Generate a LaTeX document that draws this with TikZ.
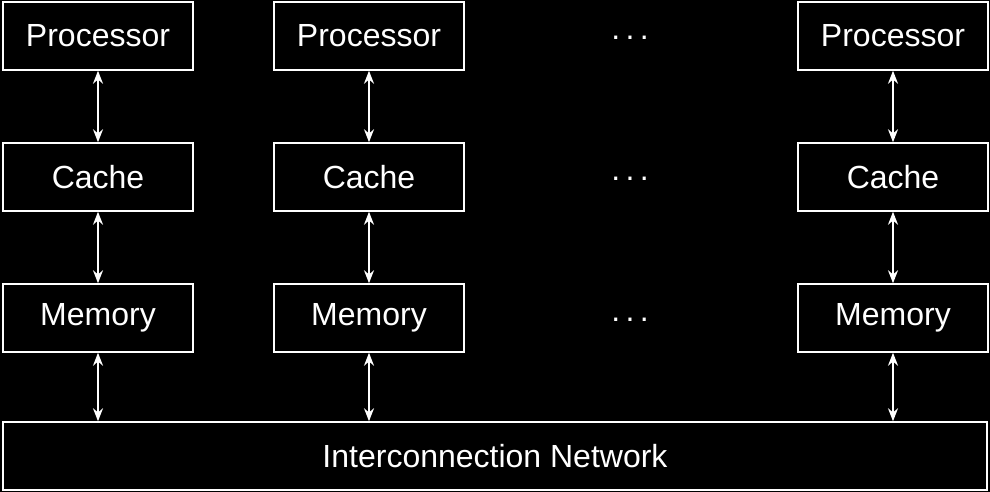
\documentclass[tikz,border=0pt]{standalone}
\usepackage{fontspec}
\setmainfont{Liberation Sans}
\usetikzlibrary{arrows.meta}
\begin{document}
\begin{tikzpicture}[x=1pt,y=-1pt,
  box/.style={draw=white,line width=1.5pt,minimum width=190pt,minimum height=68pt,text=white,inner sep=0pt,font=\fontsize{32}{32}\selectfont},
  dots/.style={text=white,font=\fontsize{32}{32}\selectfont},
  arr/.style={draw=white,line width=1.8pt,{Stealth[length=13pt,width=10pt]}-{Stealth[length=13pt,width=10pt]}}]
\fill[black] (0,0) rectangle (990,492);
\useasboundingbox (0,0) rectangle (990,492);
\foreach \n/\x in {a/98,b/369,c/893}{
  \node[box] (p\n) at (\x,36) {Processor};
  \node[box] (c\n) at (\x,177) {Cache};
  \node[box] (m\n) at (\x,318) {Memory};
}
\node[box,minimum width=984pt] (net) at (495,456) {Interconnection Network};
\foreach \n/\x in {a/98,b/369,c/893}{
  \draw[arr] (p\n) -- (c\n);
  \draw[arr] (c\n) -- (m\n);
  \draw[arr] (m\n) -- (m\n.south |- net.north);
}
\node[dots] (d1) at (630,38) {.\,.\,.};
\node[dots] (d2) at (630,179) {.\,.\,.};
\node[dots] (d3) at (630,320) {.\,.\,.};
\end{tikzpicture}
\end{document}
